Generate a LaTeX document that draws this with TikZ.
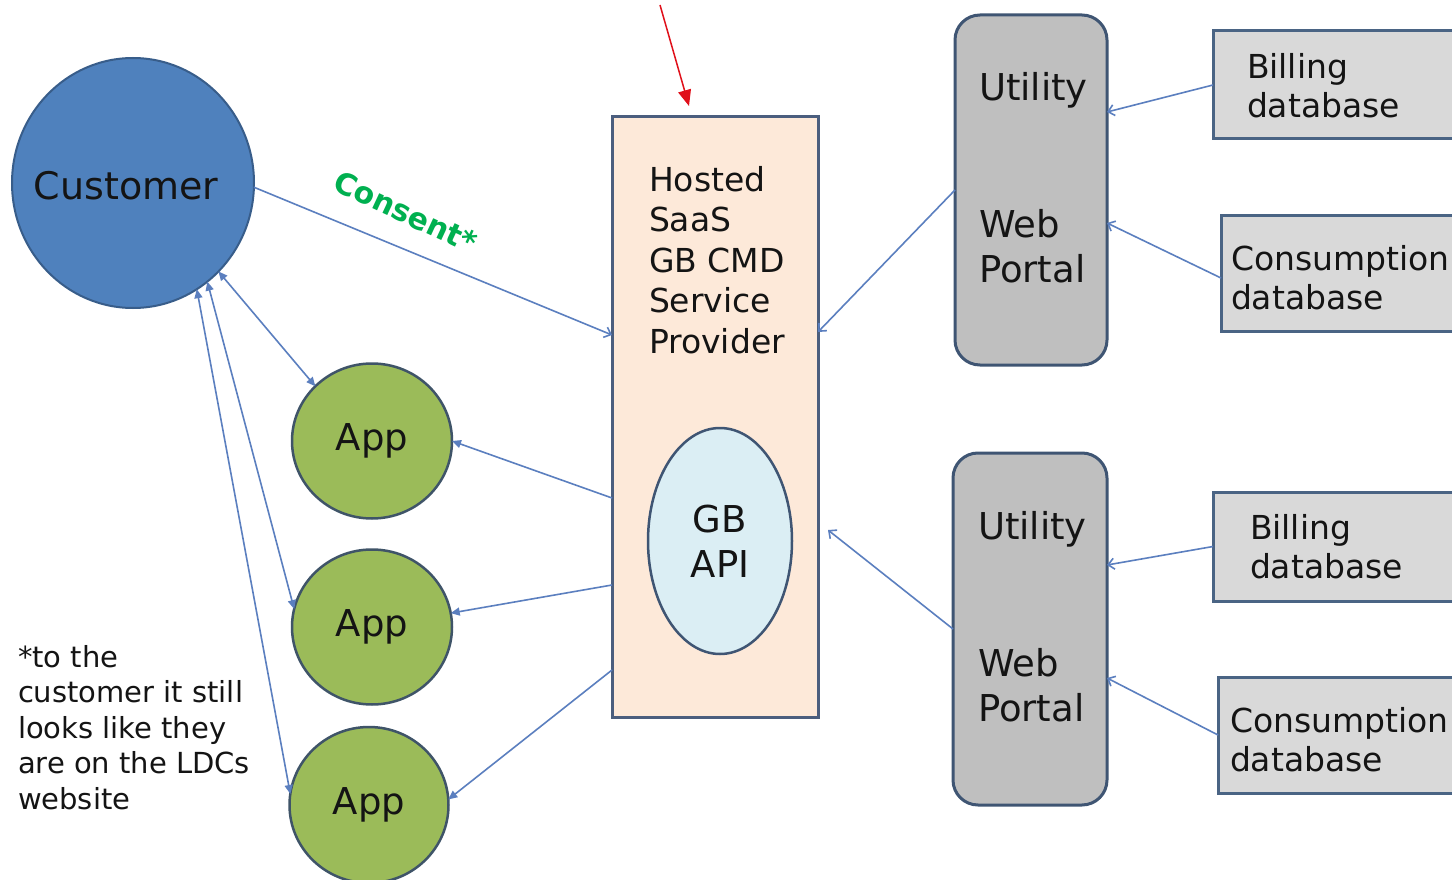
\documentclass[tikz,border=0pt]{standalone}
\usepackage{fontspec}
\setmainfont{DejaVu Sans}
\usetikzlibrary{shapes.geometric,arrows.meta,calc}
\definecolor{cblue}{HTML}{5B7FBF}
\definecolor{custfill}{HTML}{4F81BD}
\definecolor{custline}{HTML}{385D8A}
\definecolor{appfill}{HTML}{9BBB59}
\definecolor{appline}{HTML}{3F5468}
\definecolor{hostfill}{HTML}{FDE9D9}
\definecolor{hostline}{HTML}{4B5E7E}
\definecolor{apifill}{HTML}{DBEEF4}
\definecolor{portfill}{HTML}{BFBFBF}
\definecolor{portline}{HTML}{3F5573}
\definecolor{dbfill}{HTML}{D9D9D9}
\definecolor{dbline}{HTML}{4A6484}
\definecolor{consentgreen}{HTML}{00B050}
\definecolor{redarrow}{HTML}{E0101A}
\definecolor{txt}{HTML}{141414}
\begin{document}
\begin{tikzpicture}[x=1pt,y=-1pt,
  every node/.style={inner sep=0pt,outer sep=0pt,text=txt},
  custnode/.style={ellipse,draw=custline,fill=custfill,line width=2pt,
    minimum width=242pt,minimum height=250pt},
  appnode/.style={ellipse,draw=appline,fill=appfill,line width=2.5pt,
    minimum width=160pt,minimum height=155pt,font=\fontsize{37}{45}\selectfont},
  hostbox/.style={rectangle,draw=hostline,fill=hostfill,line width=3pt,
    minimum width=206pt,minimum height=600pt},
  apinode/.style={ellipse,draw=portline,fill=apifill,line width=2.5pt,
    minimum width=144pt,minimum height=226pt,align=center,
    font=\fontsize{37}{45}\selectfont},
  portbox/.style={rectangle,rounded corners=25pt,draw=portline,fill=portfill,
    line width=3pt,minimum width=152pt,minimum height=350pt},
  dbbox/.style={rectangle,draw=dbline,fill=dbfill,line width=3pt},
  lbla/.style={anchor=north west,align=left,font=\fontsize{33}{40.5}\selectfont},
  lblb/.style={anchor=north west,align=left,font=\fontsize{37}{45}\selectfont},
  lbldb/.style={anchor=north west,align=left,font=\fontsize{33}{39.5}\selectfont},
  conn/.style={draw=cblue,line width=1.6pt},
  openhead/.style={conn,-{Straight Barb[length=6pt,width=11pt]}},
  fillhead/.style={conn,-{Triangle[length=9pt,width=8pt]}},
  bothhead/.style={conn,{Triangle[length=9pt,width=8pt]}-{Triangle[length=9pt,width=8pt]}}
]
\clip (0,0) rectangle (1452,880);
\fill[white] (0,0) rectangle (1452,880);

% shapes
\node[hostbox] (hosted) at (715,417) {};
\node[apinode] (gbapi) at (720,541) {GB\\API};
\node[custnode] (customer) at (133,183) {};
\node[font=\fontsize{38}{45}\selectfont] (custtxt) at (126,186) {Customer};
\node[appnode] (app1) at (372,441) {App};
\node[appnode] (app2) at (372,627) {App};
\node[appnode,minimum width=159pt,minimum height=156pt] (app3) at (369,805) {App};
\node[portbox] (portal1) at (1031,190) {};
\node[portbox,minimum width=154pt,minimum height=352pt] (portal2) at (1030,629) {};
\node[dbbox,minimum width=267pt,minimum height=108pt] (billing1) at (1346.5,85) {};
\node[dbbox,minimum width=259pt,minimum height=116pt] (cons1) at (1350.5,273) {};
\node[dbbox,minimum width=267pt,minimum height=109pt] (billing2) at (1346.5,546.5) {};
\node[dbbox,minimum width=262pt,minimum height=116pt] (cons2) at (1349,735) {};

% labels
\node[lbla] (hostedtxt) at (649,166) {Hosted\\SaaS\\GB CMD\\Service\\Provider};
\node[lblb] (util1) at (979,72) {Utility};
\node[lblb] (web1) at (979,209) {Web\\Portal};
\node[lblb] (util2) at (978,511) {Utility};
\node[lblb] (web2) at (978,648) {Web\\Portal};
\node[lbldb] (billtxt1) at (1247,53) {Billing\\database};
\node[lbldb] (constxt1) at (1231,245) {Consumption\\database};
\node[lbldb] (billtxt2) at (1250,514) {Billing\\database};
\node[lbldb] (constxt2) at (1230,707) {Consumption\\database};
\node[anchor=north west,align=left,font=\fontsize{29}{35.5}\selectfont] (note) at (18,645)
  {*to the\\customer it still\\looks like they\\are on the LDCs\\website};
\node[rotate=-25,text=consentgreen,font=\fontsize{30}{34}\selectfont\bfseries] (consent) at (406,212) {Consent*};

% connectors
\draw[openhead] (customer.-2) -- ($(hosted.west)+(0,-82)$);
\draw[bothhead] (customer.-46) -- (app1.136);
\draw[bothhead] (customer.-53) -- (app2.167);
\draw[bothhead] (customer.-59) -- (app3.172);
\draw[fillhead] ($(hosted.west)+(0,81)$) -- (app1.east);
\draw[fillhead] ($(hosted.west)+(0,168)$) -- (app2.10);
\draw[fillhead] ($(hosted.west)+(0,253)$) -- (app3.4);
\draw[openhead] (portal1.west) -- ($(hosted.east)+(0,-85)$);
\coordinate (apiin) at ($(hosted.east)+(10,113)$);
\draw[openhead] (portal2.west) -- (apiin);
\draw[openhead] (billing1.west) -- ($(portal1.east)+(0,-78)$);
\draw[openhead] ($(cons1.west)+(0,5)$) -- ($(portal1.east)+(0,33)$);
\draw[openhead] (billing2.west) -- ($(portal2.east)+(0,-64)$);
\draw[openhead] (cons2.west) -- ($(portal2.east)+(0,49)$);

\coordinate (redtail) at (660,5);
\draw[draw=redarrow,line width=1.5pt,-{Triangle[length=16pt,width=13pt]}] (redtail) -- ($(hosted.north)+(-26,-11)$);
\end{tikzpicture}
\end{document}
